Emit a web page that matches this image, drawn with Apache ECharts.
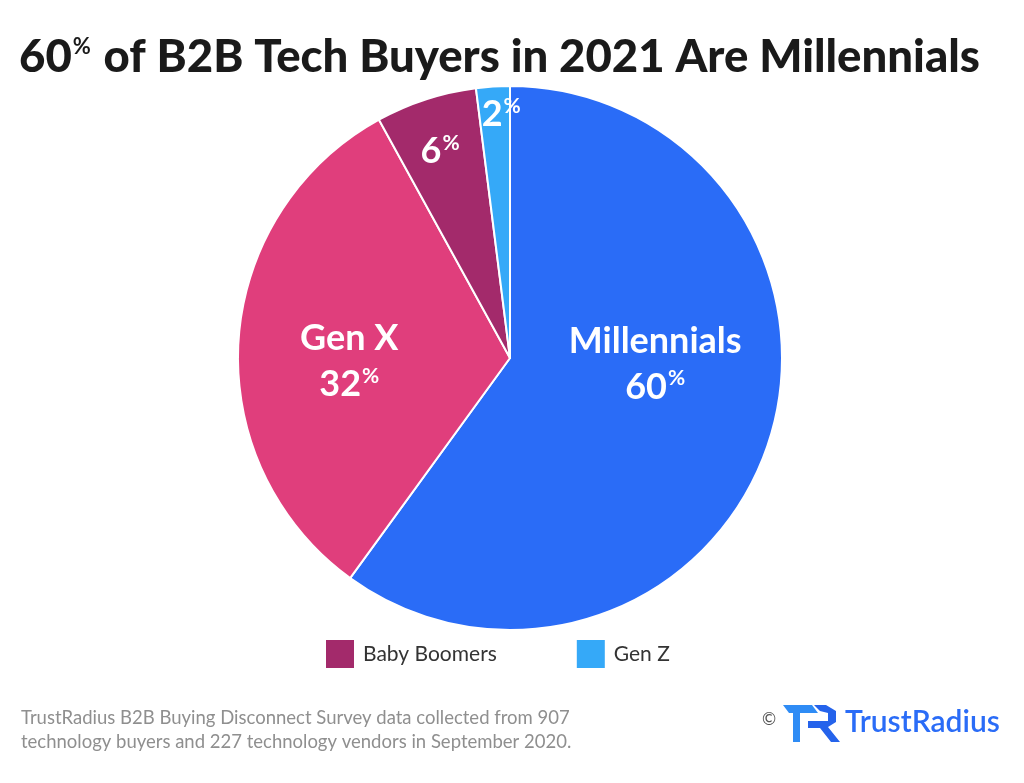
<!DOCTYPE html>
<html>
<head>
<meta charset="utf-8">
<script src="https://cdn.jsdelivr.net/npm/echarts@6/dist/echarts.min.js"></script>
<style>
  html, body { margin: 0; padding: 0; background: #fff; }
  #main { width: 1024px; height: 783px; }
</style>
</head>
<body>
<div id="main"></div>
<script>
// generations, share of B2B tech buyers (%)
var categories = ['Millennials', 'Gen X', 'Baby Boomers', 'Gen Z'];
var shares = [60, 32, 6, 2];
var colors = ['#2a6cf7', '#e03e7c', '#a32a6b', '#35a9f8'];
var legendItems = ['Baby Boomers', 'Gen Z'];
var showName = [true, true, false, false];

// nudge the labels from the default inside spot to where they sit in the picture
var labelShift = [[13, -37], [-22, 12], [-27, -74], [0, -105]];

var chart = echarts.init(document.getElementById('main'));

var option = {
    animation: false,
    title: [{
        text: '{a|60}{s|%}{a| of B2B Tech Buyers in 2021 Are Millennials}',
        left: 19,
        top: 31,
        padding: 0,
        textStyle: {
            rich: {
                a: { fontFamily: 'Lato', fontWeight: 900, fontSize: 45.5, color: '#1a1a1a', lineHeight: 52 },
                s: { fontFamily: 'Lato', fontWeight: 700, fontSize: 22, color: '#1a1a1a', verticalAlign: 'top', lineHeight: 52, padding: [5, 2, 0, 1] }
            }
        }
    }, {
        text: 'TrustRadius B2B Buying Disconnect Survey data collected from 907\ntechnology buyers and 227 technology vendors in September 2020.',
        left: 21,
        top: 706,
        padding: 0,
        textStyle: { fontFamily: 'Lato', fontWeight: 400, fontSize: 18.5, color: '#8f8f8f', lineHeight: 24 }
    }],
    legend: {
        data: legendItems,
        left: 324,
        top: 638,
        padding: 0,
        icon: 'rect',
        itemWidth: 30,
        itemHeight: 30,
        itemGap: 78,
        selectedMode: false,
        textStyle: { fontFamily: 'Lato', fontSize: 21, color: '#333', padding: [0, 0, 0, 3] }
    },
    series: [{
        type: 'pie',
        center: [510, 358],
        radius: [0, 272],
        startAngle: 90,
        clockwise: true,
        silent: true,
        itemStyle: { borderColor: '#fff', borderWidth: 2 },
        label: {
            position: 'inside',
            color: '#fff',
            formatter: function (p) {
                var v = '{v|' + p.value + '}{p|%}';
                return showName[p.dataIndex] ? '{n|' + p.name + '}\n' + v : v;
            },
            rich: {
                n: { fontFamily: 'Lato', fontWeight: 700, fontSize: 36, color: '#fff', lineHeight: 46, align: 'center' },
                v: { fontFamily: 'Lato', fontWeight: 700, fontSize: 36, color: '#fff', lineHeight: 46 },
                p: { fontFamily: 'Lato', fontWeight: 700, fontSize: 21, color: '#fff', verticalAlign: 'top', lineHeight: 46, padding: [4, 0, 0, 1] }
            }
        },
        labelLine: { show: false },
        labelLayout: function (params) {
            var s = labelShift[params.dataIndex];
            return { dx: s[0], dy: s[1] };
        },
        data: categories.map(function (c, i) {
            return { name: c, value: shares[i], itemStyle: { color: colors[i] } };
        })
    }],
    graphic: [
        { type: 'text', left: 762, top: 711, style: { text: '©', font: '400 17px Lato', fill: '#555' } },
        // TR mark
        { type: 'polygon', shape: { points: [[783, 705], [812, 705], [818, 713], [800, 713], [800, 742], [793, 742], [793, 713], [789, 713]] }, style: { fill: '#2f8cf5' } },
        { type: 'polygon', shape: { points: [[814, 705], [826, 705], [836, 711], [836, 722], [828, 727], [840, 742], [831, 742], [820, 728], [808, 728], [808, 721], [828, 721], [828, 713], [820, 711]] }, style: { fill: '#2563eb' } },
        { type: 'text', left: 845, top: 707, style: { text: 'TrustRadius', font: '600 30px Lato', fill: '#2a6cf7' } }
    ]
};

chart.setOption(option);
</script>
</body>
</html>
